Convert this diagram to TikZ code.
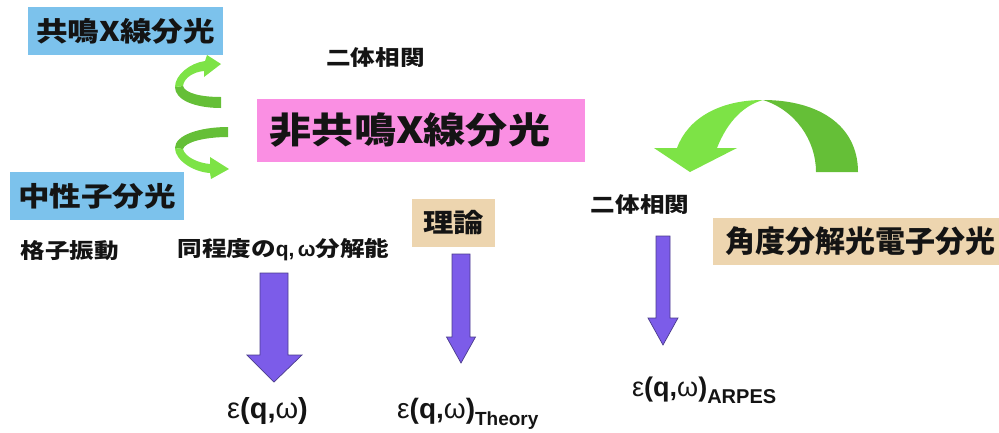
\documentclass[tikz,border=0pt]{standalone}
\usepackage{fontspec}
\newfontfamily\jp[FakeStretch=1.17]{Noto Sans CJK JP}
\newfontfamily\jpn{Noto Sans CJK JP}
\newfontfamily\lat{Liberation Sans}
\definecolor{boxblue}{HTML}{7CC2EC}
\definecolor{boxpink}{HTML}{FA8FE3}
\definecolor{boxtan}{HTML}{EDD5AF}
\definecolor{arrpurple}{HTML}{7C5CE9}
\definecolor{arredge}{HTML}{4B3C8C}
\definecolor{grnlight}{HTML}{7DE346}
\definecolor{grndark}{HTML}{65BF37}
\definecolor{txt}{HTML}{141414}
\newcommand{\fs}[1]{\fontsize{#1}{#1}\selectfont}
\tikzset{
  lbl/.style={inner sep=0pt, text=txt},
  boxb/.style={inner sep=0pt, fill=boxblue, text=txt},
  boxp/.style={inner sep=0pt, fill=boxpink},
  boxt/.style={inner sep=0pt, fill=boxtan, text=txt},
  parrow/.style={fill=arrpurple, draw=arredge, line width=0.7pt, line join=miter},
  gdark/.style={fill=grndark, draw=none},
  glight/.style={fill=grnlight, draw=none}
}
\begin{document}
\begin{tikzpicture}[x=1pt,y=-1pt]
\useasboundingbox (0,0) rectangle (999,432);
% boxes
\node[boxb, minimum width=195pt, minimum height=48pt] (res) at (125.5,31) {\jp\bfseries\fs{27}共鳴X線分光};
\node[boxb, minimum width=174pt, minimum height=48pt] (neu) at (97,196) {\jp\bfseries\fs{27}中性子分光};
\node[boxp, minimum width=328pt, minimum height=63pt] (nonres) at (421,130.5) {};
\node[lbl] (nonrestxt) at (410,130.5) {\jp\bfseries\fs{36}非共鳴X線分光};
\node[boxt, minimum width=83pt, minimum height=48pt] (riron) at (453.5,223) {\jp\bfseries\fs{26}理論};
\node[boxt, minimum width=287pt, minimum height=47pt, text width=287pt, align=center] (arpes) at (856.5,241.5) {\hspace*{7pt}\jpn\bfseries\fs{30}角度分解光電子分光};
% labels
\node[lbl] (nitaiA) at (375.5,57.5) {\jp\bfseries\fs{21}二体相関};
\node[lbl] (nitaiB) at (640,205) {\jp\bfseries\fs{21}二体相関};
\node[lbl] (koshi) at (70,250.5) {\jp\bfseries\fs{21}格子振動};
\node[lbl] (doutei) at (283.5,250) {\jp\bfseries\fs{21}同程度の{\lat\bfseries q}{\lat ,\,ω}分解能};
% epsilon labels
\node[lbl, anchor=base west] (eps1) at (227,418) {\lat\fs{29}ε\textbf{(q,}ω\textbf{)}};
\node[lbl, anchor=base west] (eps2) at (397,418) {\lat\fs{28}ε\textbf{(q,}ω\textbf{)}\raisebox{-7pt}{\fs{19}\bfseries Theory}};
\node[lbl, anchor=base west] (eps3) at (632,396) {\lat\fs{27}ε\textbf{(q,}ω\textbf{)}\raisebox{-7pt}{\fs{20}\bfseries ARPES}};
% purple arrows
\draw[parrow] (260,273) -- (288,273) -- (288,355) -- (302,355) -- (274,382) -- (247,355) -- (260,355) -- cycle;
\draw[parrow] (452,254) -- (470,254) -- (470,337) -- (475.5,337) -- (461,363) -- (446.5,337) -- (452,337) -- cycle;
\draw[parrow] (656,236) -- (670,236) -- (670,318) -- (678,318) -- (663,345) -- (648,318) -- (656,318) -- cycle;
% green upper small arrow
\fill[gdark] (175,87) .. controls (175,100) and (195,108) .. (221,108) -- (221,97) .. controls (200,97) and (185,93) .. (183,86) -- cycle;
\fill[glight] (175,87) .. controls (175,75) and (190,63) .. (205,61) -- (207,55) -- (221,64) -- (204,77) -- (204,71) .. controls (193,72) and (184,78) .. (183,86) -- cycle;
% green lower small arrow
\fill[gdark] (175,148) .. controls (175,135) and (200,127) .. (228,127) -- (228,137) .. controls (205,137) and (185,142) .. (183,149) -- cycle;
\fill[glight] (175,148) .. controls (175,160) and (193,172) .. (210,173) -- (211,179) -- (229,169) -- (210,157) -- (210,164) .. controls (198,163) and (185,157) .. (183,149) -- cycle;
% big green arrow
\fill[gdark] (858,172) .. controls (858,125) and (818,100) .. (763,100) .. controls (795,110) and (816,140) .. (816,172) -- cycle;
\fill[glight] (763,100) .. controls (720,100) and (688,118) .. (677,148) -- (654,148) -- (690,172) -- (737,148) -- (717,148) .. controls (728,120) and (745,105) .. (763,100) -- cycle;
\end{tikzpicture}
\end{document}
